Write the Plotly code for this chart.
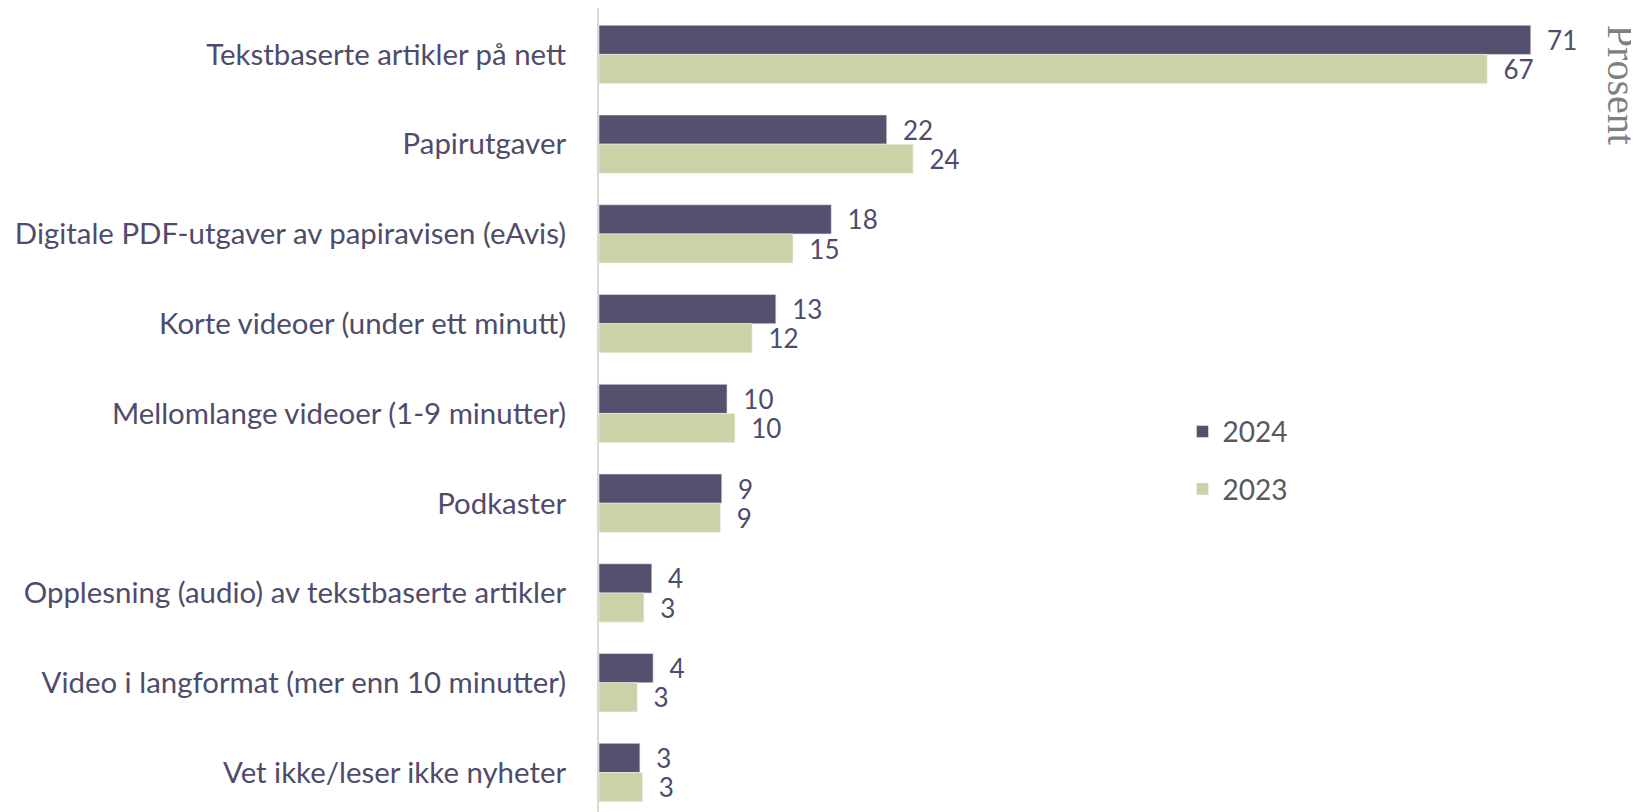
import plotly.graph_objects as go

# categories, top to bottom
categories = [
    "Tekstbaserte artikler på nett",
    "Papirutgaver",
    "Digitale PDF-utgaver av papiravisen (eAvis)",
    "Korte videoer (under ett minutt)",
    "Mellomlange videoer (1-9 minutter)",
    "Podkaster",
    "Opplesning (audio) av tekstbaserte artikler",
    "Video i langformat (mer enn 10 minutter)",
    "Vet ikke/leser ikke nyheter",
]

# values (percent)
values_2024 = [70.6, 21.8, 17.6, 13.4, 9.7, 9.3, 4.0, 4.1, 3.1]
values_2023 = [67.3, 23.8, 14.7, 11.6, 10.3, 9.2, 3.4, 2.9, 3.3]

# printed data labels
labels_2024 = ["71", "22", "18", "13", "10", "9", "4", "4", "3"]
labels_2023 = ["67", "24", "15", "12", "10", "9", "3", "3", "3"]

col_2024 = "#54516f"
col_2023 = "#cbd2a7"
text_col = "#4f4c6b"
font_name = "Lato"

fig = go.Figure()

# 2024 first so it sits on top in each pair (y axis reversed)
fig.add_trace(go.Bar(
    y=categories, x=values_2024, name="2024", orientation="h",
    marker=dict(color=col_2024, line=dict(color="#e8e8ee", width=0.6)),
    text=["\u00a0\u00a0" + t for t in labels_2024], textposition="outside",
    textfont=dict(family=font_name, size=26, color=text_col),
    constraintext="none", cliponaxis=False, legendgroup="a",
))
fig.add_trace(go.Bar(
    y=categories, x=values_2023, name="2023", orientation="h",
    marker=dict(color=col_2023, line=dict(color="#f2f4ea", width=0.6)),
    text=["\u00a0\u00a0" + t for t in labels_2023], textposition="outside",
    textfont=dict(family=font_name, size=26, color=text_col),
    constraintext="none", cliponaxis=False, legendgroup="b",
))

# page body adds an 8px margin, so the figure is a bit smaller than the window
fig.update_layout(
    width=1631, height=804,
    margin=dict(l=591, r=0, t=0, b=0, autoexpand=False),
    barmode="group", bargap=0.35, bargroupgap=0,
    plot_bgcolor="white", paper_bgcolor="white",
    font=dict(family=font_name, size=29.4, color=text_col),
    legend=dict(
        x=0.561, y=0.504, xanchor="left", yanchor="top",
        font=dict(family=font_name, size=28, color="#595959"),
        tracegroupgap=18, bgcolor="rgba(0,0,0,0)",
    ),
)

fig.update_xaxes(range=[0, 78.8], showgrid=False, zeroline=False,
                 showticklabels=False, showline=False)
fig.update_yaxes(range=[8.44, -0.517], showgrid=False, zeroline=False,
                 showline=True, linecolor="#d9d9d9", linewidth=2,
                 ticks="", ticklabelstandoff=25, automargin=False,
                 tickfont=dict(family=font_name, size=29.4, color=text_col))

# axis unit at the right edge
fig.add_annotation(
    text="Prosent", xref="paper", yref="paper", x=0.983, y=0.904,
    xanchor="center", yanchor="middle",
    showarrow=False, textangle=90,
    font=dict(family="Liberation Serif", size=40, color="#7f7f7f"),
)

fig.write_html("out.html")
